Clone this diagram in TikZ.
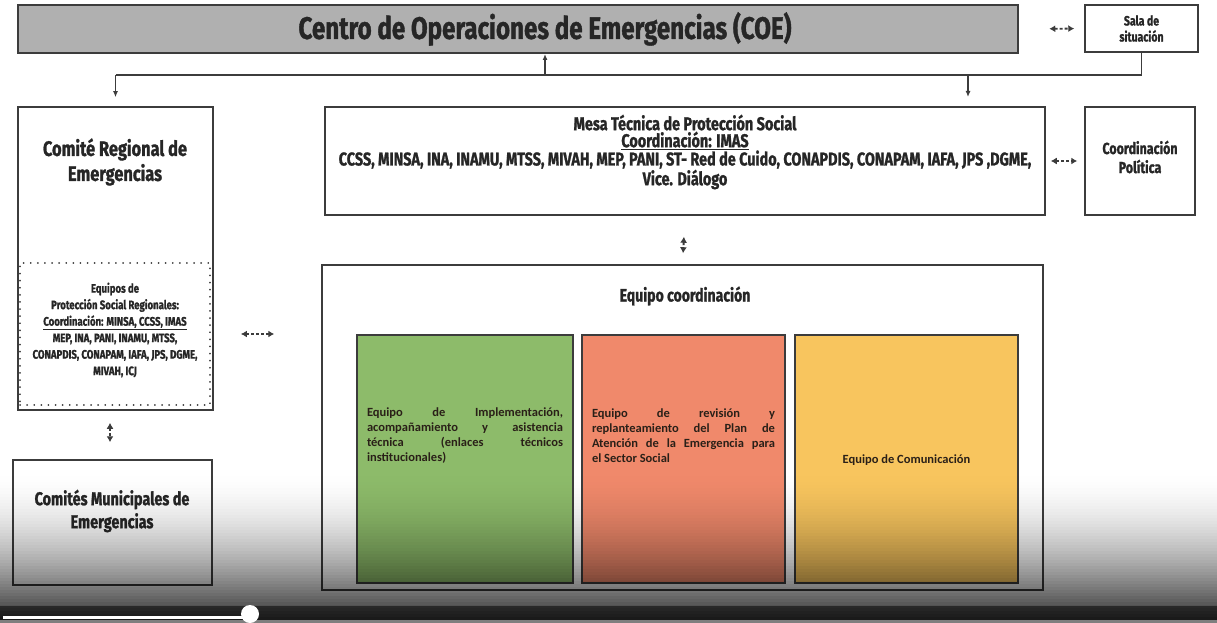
\documentclass[tikz,border=0pt]{standalone}
\usepackage{fontspec}
\setmainfont{Fira Sans}
\newfontfamily\condf[FakeStretch=0.78,FakeBold=1.2]{Fira Sans}
\newfontfamily\bodyf{Carlito}
\usetikzlibrary{arrows.meta,calc,positioning}

\definecolor{coegray}{HTML}{B0B0B0}
\definecolor{boxline}{HTML}{3C3C3C}
\definecolor{verde}{HTML}{8DBB6A}
\definecolor{salmon}{HTML}{F0896B}
\definecolor{amarillo}{HTML}{F8C55E}
\definecolor{txt}{HTML}{2A2018}

\tikzset{
  caja/.style={draw=boxline, line width=1.5pt, inner sep=0pt, fill=white},
  equipo/.style={caja, line width=1.2pt, minimum height=248pt},
  titulo/.style n args={2}{align=center, text=black!85, font=\condf\bfseries\fontsize{#1}{#2}\selectfont},
  cuerpo/.style={align=justify, text=txt, font=\bodyf\bfseries\fontsize{12.5}{15}\selectfont},
  flecha/.style={line width=1.3pt, boxline},
  punta/.style={-{Latex[length=6pt,width=5pt]}},
  doble/.style={line width=1.8pt, densely dashed, boxline, {Latex[length=6pt,width=7pt]}-{Latex[length=6pt,width=7pt]}},
}

\begin{document}
\begin{tikzpicture}[x=1pt,y=-1pt]
  \useasboundingbox (0,0) rectangle (1217,623);
  \fill[white] (0,0) rectangle (1217,623);

  % nivel nacional
  \node[caja, fill=coegray, line width=2.5pt, minimum width=1000pt, minimum height=48pt] (coe) at (518,29) {};
  \node[titulo={31}{34}] (coetxt) at (545,29) {Centro de Operaciones de Emergencias (COE)};
  \node[caja, minimum width=113pt, minimum height=47pt, titulo={13.5}{16}] (sala) at (1141.5,28.5) {Sala de\\situación};

  % nivel regional
  \node[caja, minimum width=195pt, minimum height=303pt] (regional) at (115.5,258.5) {};
  \node[titulo={21}{25}] (regtxt) at (115,162) {Comité Regional de\\Emergencias};
  \node[draw=boxline, line width=1.8pt, dash pattern=on 0.1pt off 7pt, line cap=round,
        minimum width=190pt, minimum height=142pt, inner sep=0pt] (eqregional) at (115,334) {};
  \node[titulo={12.3}{16.5}] (eqregtxt) at (115,330) {Equipos de\\Protección Social Regionales:\\\underline{Coordinación: MINSA, CCSS, IMAS}\\MEP, INA, PANI, INAMU, MTSS,\\CONAPDIS, CONAPAM, IAFA, JPS, DGME,\\MIVAH, ICJ};
  \node[caja, minimum width=199pt, minimum height=125pt] (municipal) at (112.5,522.5) {};
  \node[titulo={18.5}{23}] (muntxt) at (112,511) {Comités Municipales de\\Emergencias};

  % mesa tecnica
  \node[caja, minimum width=720pt, minimum height=108pt] (mesa) at (685,161) {};
  \node[titulo={18.5}{17}] (mesatxt) at (685,152) {Mesa Técnica de Protección Social\\\underline{Coordinación: IMAS}\\CCSS, MINSA, INA, INAMU, MTSS, MIVAH, MEP, PANI, ST- Red de Cuido, CONAPDIS, CONAPAM, IAFA, JPS ,DGME,\\Vice. Diálogo};
  \node[caja, minimum width=110pt, minimum height=108pt] (politica) at (1140,161) {};
  \node[titulo={16}{19}] (poltxt) at (1140,157) {Coordinación\\Política};

  % equipo coordinacion
  \node[caja, minimum width=721pt, minimum height=325pt] (coord) at (682.5,427.5) {};
  \node[titulo={18}{20}] (coordtxt) at (685,296) {Equipo coordinación};
  \node[equipo, fill=verde, minimum width=216pt] (verde) at (465,459) {};
  \node[cuerpo, text width=196pt] (verdetxt) at (465,436) {Equipo de Implementación,\linebreak acompañamiento y asistencia\linebreak técnica (enlaces técnicos\linebreak institucionales)};
  \node[equipo, fill=salmon, minimum width=203pt] (revision) at (683.5,459) {};
  \node[cuerpo, text width=183pt] (revtxt) at (683.5,436) {Equipo de revisión y\linebreak replanteamiento del Plan de\linebreak Atención de la Emergencia para\linebreak el Sector Social};
  \node[equipo, fill=amarillo, minimum width=223pt] (comunicacion) at (906.5,459) {};
  \node[cuerpo, align=center] (comtxt) at (906.5,460) {Equipo de Comunicación};

  % conexiones
  \coordinate (bus) at (0,75);
  \coordinate (coein) at (545,53);
  \coordinate (mesain) at (968,107);
  \draw[flecha] (sala.south) |- (regional.north |- bus);
  \draw[flecha, punta, shorten >=9pt] (regional.north |- bus) -- (regional.north);
  \draw[flecha, punta, shorten >=10pt] (mesain |- bus) -- (mesain);
  \draw[flecha, punta, shorten >=1pt] (coein |- bus) -- (coein);
  \draw[doble, shorten <=30pt, shorten >=10pt] (coe.east) -- (sala.west);
  \draw[doble, shorten <=5pt, shorten >=7pt] (mesa.east) -- (politica.west);
  \draw[doble, shorten <=30pt, shorten >=47pt] (eqregional.east) -- (eqregional.east -| coord.west);
  \draw[doble, line width=2pt, shorten <=12pt, shorten >=17pt] (regional.south -| 110,0) -- (municipal.north -| 110,0);
  \draw[doble, line width=2pt, shorten <=21pt, shorten >=11pt] (mesa.south) -- (coord.north);

  % barra del video
  \foreach \i [evaluate=\i as \op using 0.82*(\i/50)^1.8] in {0,...,49}
    \fill[black, opacity=\op] (0,470+3*\i) rectangle ++(1217,3.2);
  \fill[black, opacity=0.5] (0,606) rectangle (1217,623);
  \draw[white, line width=3pt] (3,617) -- (245,617);
  \fill[white] (250,614) circle (9);
\end{tikzpicture}
\end{document}
